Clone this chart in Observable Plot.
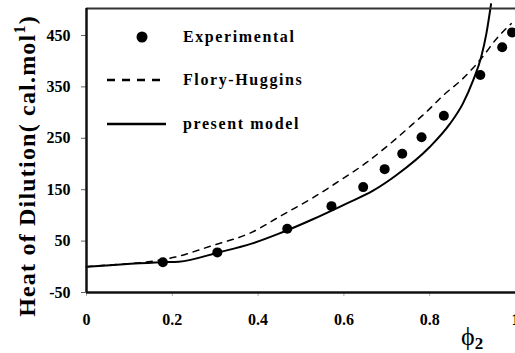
<!DOCTYPE html>
<html><head><meta charset="utf-8">
<script src="https://cdn.jsdelivr.net/npm/d3@7"></script>
<script src="https://cdn.jsdelivr.net/npm/@observablehq/plot@0.6"></script>
<style>body{margin:0;background:#fff} svg{display:block}</style>
</head><body><div id="chart"></div>
<script>
// Experimental points
const expPhi  = [0.178, 0.305, 0.468, 0.571, 0.645, 0.695, 0.736, 0.781, 0.833, 0.918, 0.969, 0.992];
const expHeat = [9, 28, 74, 118, 155, 190, 220, 252, 294, 373, 427, 456];
// Flory-Huggins (dashed)
const fhPhi  = [0, 0.036, 0.137, 0.207, 0.292, 0.385, 0.455, 0.529, 0.591, 0.653, 0.707, 0.761, 0.792, 0.831, 0.877, 0.92, 0.959, 0.99];
const fhHeat = [0, 2.5, 9, 19, 41, 67, 100, 135, 168, 203, 239, 278, 301, 333, 366, 405, 447, 473];
// Present model (solid)
const pmPhi  = [0, 0.176, 0.215, 0.308, 0.385, 0.447, 0.529, 0.606, 0.668, 0.722, 0.8, 0.847, 0.877, 0.901, 0.92, 0.932, 0.943];
const pmHeat = [0, 9, 10, 28, 45, 64, 93, 123, 148, 178, 233, 278, 317, 362, 408, 453, 511];
const xTicks = [0, 0.2, 0.4, 0.6, 0.8, 1];
const yTicks = [-50, 50, 150, 250, 350, 450];
const legendLabels = ["Experimental", "Flory-Huggins", "present model"];

const expData = expPhi.map((x, i) => ({x, y: expHeat[i]}));
const fhData = fhPhi.map((x, i) => ({x, y: fhHeat[i]}));
const pmData = pmPhi.map((x, i) => ({x, y: pmHeat[i]}));

const font = "\"Liberation Serif\", \"Times New Roman\", \"DejaVu Serif\", serif";
const yMax = 502.5;
const plot = Plot.plot({
  width: 515, height: 353,
  marginLeft: 86, marginRight: 0, marginTop: 8, marginBottom: 61,
  style: {fontFamily: font, fontWeight: "bold", fontSize: "16px", background: "white", color: "black", overflow: "visible"},
  x: {domain: [0, 1]},
  y: {domain: [-50, yMax]},
  marks: [
    Plot.axisX({ticks: xTicks, tickFormat: d => String(d), tickSize: 4, tickPadding: 17, label: null, stroke: "#aaa", fill: "black"}),
    Plot.axisY({ticks: yTicks, tickFormat: d => String(d), tickSize: 5, tickPadding: 11, label: null, stroke: "#666", fill: "black"}),
    Plot.line(fhData, {x: "x", y: "y", stroke: "black", strokeWidth: 1.5, strokeDasharray: "6,6", curve: "monotone-x"}),
    Plot.line(pmData, {x: "x", y: "y", stroke: "black", strokeWidth: 2, curve: "monotone-x"}),
    Plot.dot(expData, {x: "x", y: "y", r: 5, fill: "black", stroke: "none"}),
    Plot.ruleY([yMax], {stroke: "#333", strokeWidth: 2}),
    Plot.ruleY([-50], {stroke: "#111", strokeWidth: 2.5}),
    Plot.ruleX([0], {stroke: "#111", strokeWidth: 2.5})
  ]
});
document.getElementById("chart").append(plot);

const svg = d3.select(plot);
// Legend
const lg = svg.append("g").attr("text-anchor", "start").style("font-family", font).attr("font-weight", "bold").attr("font-size", 16).attr("letter-spacing", 1.6);
lg.append("circle").attr("cx", 142).attr("cy", 37).attr("r", 5.5).attr("fill", "black");
lg.append("line").attr("x1", 107).attr("x2", 166).attr("y1", 80).attr("y2", 80).attr("stroke", "black").attr("stroke-width", 2.5).attr("stroke-dasharray", "8,7");
lg.append("line").attr("x1", 107).attr("x2", 166).attr("y1", 124).attr("y2", 124).attr("stroke", "black").attr("stroke-width", 2.5);
[42, 85, 129].forEach((yy, i) => lg.append("text").attr("x", 183).attr("y", yy).text(legendLabels[i]));

// Y title
const yt = svg.append("text").attr("transform", "translate(35,166) rotate(-90)")
  .attr("text-anchor", "middle").style("font-family", font).attr("font-weight", "bold").attr("font-size", 24).attr("letter-spacing", 1.2);
yt.append("tspan").text("Heat of Dilution( cal.mol");
yt.append("tspan").attr("dy", -10).attr("font-size", 16).text("1");
yt.append("tspan").attr("dy", 10).text(")");

// X title
const xt = svg.append("text").attr("x", 461).attr("y", 345).attr("text-anchor", "start").style("font-family", font).attr("font-weight", "normal").attr("font-size", 26);
xt.append("tspan").text("ϕ");
xt.append("tspan").attr("dy", 4).attr("font-size", 17).attr("font-weight", "bold").text("2");
</script></body></html>
